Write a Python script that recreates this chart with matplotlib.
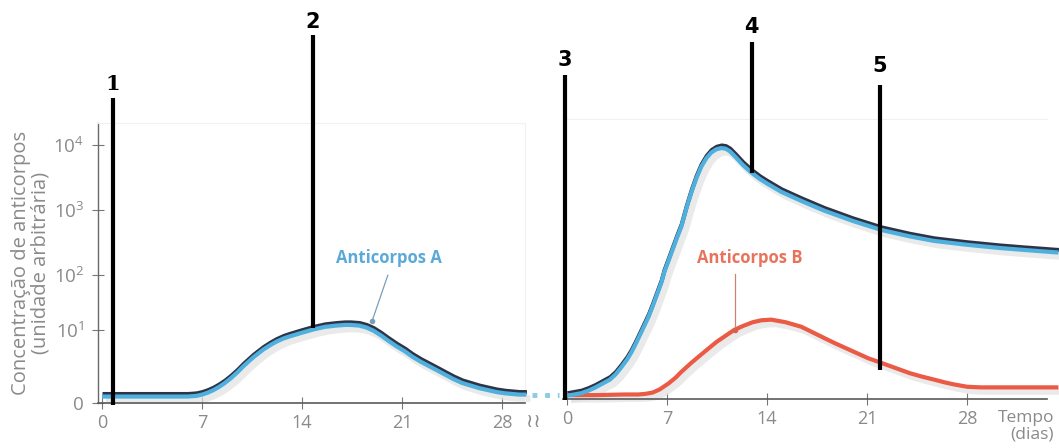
import matplotlib
matplotlib.use("Agg")
import matplotlib.pyplot as plt
from matplotlib.transforms import offset_copy

# ---------------- data (levels on the drawn log-like scale) ----------------
# Panel 1: primary response, antibody A
p1_days = [0, 3, 6.0, 6.6, 7.0, 7.4, 7.8, 8.2, 8.6, 9.0, 9.5, 9.9, 10.6, 11.3, 11.8, 12.2,
           12.7, 13.1, 14.0, 14.8, 15.6, 16.4, 17.0, 17.4, 18.0, 18.5, 19.0, 19.5, 20.0,
           20.6, 21.2, 21.7, 22.3, 22.9, 23.5, 24.0, 24.6, 25.2, 25.8, 26.4, 27.0, 27.6,
           28.2, 28.7, 29.2, 29.7]
p1_A = [0.10, 0.10, 0.10, 0.11, 0.13, 0.16, 0.20, 0.25, 0.31, 0.38, 0.48, 0.57, 0.71, 0.83,
        0.90, 0.95, 1.00, 1.03, 1.09, 1.14, 1.18, 1.20, 1.21, 1.21, 1.20, 1.17, 1.12, 1.05,
        0.97, 0.88, 0.80, 0.72, 0.64, 0.57, 0.50, 0.44, 0.37, 0.31, 0.27, 0.23, 0.20, 0.17,
        0.15, 0.14, 0.13, 0.13]

# Panel 2: secondary response, antibody A and primary response, antibody B
p2_days_A = [0, 1, 1.5, 2, 2.5, 3, 3.4, 3.8, 4.2, 4.5, 4.8, 5.1, 5.4, 5.7, 6.0, 6.3, 6.6,
             6.8, 7.1, 7.4, 7.7, 8.0, 8.35, 8.7, 9.05, 9.4, 9.75, 10.1, 10.45, 10.8, 11.1,
             11.4, 11.8, 12.3, 12.9, 13.5, 14, 15, 16.4, 18, 20, 22, 24, 25.7, 28, 30.3,
             32, 33.8, 34.4]
p2_A = [0.05, 0.09, 0.13, 0.18, 0.24, 0.30, 0.38, 0.49, 0.61, 0.72, 0.85, 0.99, 1.13, 1.27,
        1.44, 1.62, 1.80, 1.96, 2.14, 2.32, 2.50, 2.67, 2.95, 3.20, 3.42, 3.60, 3.73, 3.82,
        3.87, 3.89, 3.88, 3.84, 3.75, 3.63, 3.51, 3.41, 3.34, 3.21, 3.07, 2.92, 2.76, 2.62,
        2.52, 2.45, 2.39, 2.34, 2.31, 2.28, 2.27]
p2_days_B = [0, 2, 4, 5.0, 5.5, 6.0, 6.5, 7.1, 7.6, 8, 8.7, 9.4, 10.0, 10.5, 11.1, 11.7,
             12.3, 13, 13.6, 14.3, 15.3, 16.4, 17.5, 18.7, 19.5, 20.3, 21.1, 22, 23, 24,
             24.8, 25.7, 26.4, 27, 27.5, 28, 29, 30, 32, 34.4]
p2_B = [0.06, 0.06, 0.07, 0.07, 0.08, 0.10, 0.15, 0.24, 0.33, 0.42, 0.56, 0.69, 0.80, 0.89,
        0.98, 1.07, 1.13, 1.19, 1.22, 1.23, 1.19, 1.12, 1.00, 0.87, 0.79, 0.71, 0.63, 0.56,
        0.48, 0.40, 0.35, 0.30, 0.26, 0.23, 0.21, 0.19, 0.18, 0.18, 0.18, 0.18]

x_ticks = [0, 7, 14, 21, 28]
x_ticklabels = ["0", "7", "14", "21", "28"]
y_tick_levels = [0, 1.13, 1.98, 2.99, 4.0]
y_ticklabels = ["0", r"$10^1$", r"$10^2$", r"$10^3$", r"$10^4$"]

# numbered markers: (panel, day, bottom level, top level, label level, text)
markers = [
    (0, 0.77, -0.03, 4.73, 4.95, "1"),
    (0, 14.75, 1.16, 5.71, 5.90, "2"),
    (1, -0.14, -0.02, 5.02, 5.26, "3"),
    (1, 12.94, 3.50, 5.53, 5.77, "4"),
    (1, 21.90, 0.45, 4.87, 5.16, "5"),
]

# ---------------- style ----------------
plt.rcParams["font.family"] = ["Open Sans", "DejaVu Sans"]
plt.rcParams["mathtext.fontset"] = "custom"
plt.rcParams["mathtext.rm"] = "Open Sans"
plt.rcParams["mathtext.it"] = "Open Sans"
GRAY_TXT = "#8a8a8a"
BLUE = "#4fb0de"
DARK = "#2e3448"
RED = "#ea5a44"
SHADOW = "#e2e2e2"

W, H = 1059, 448
fig = plt.figure(figsize=(W / 100, H / 100), dpi=100)
ax1 = fig.add_axes([98 / W, (H - 403) / H, (525 - 98) / W, 280 / H])
ax2 = fig.add_axes([563 / W, (H - 399) / H, (1047 - 563) / W, 280 / H])

ax1.set_xlim(-0.28, 29.6)
ax2.set_xlim(-0.28, 33.6)
for ax in (ax1, ax2):
    ax.set_ylim(0, 4.34)
    ax.patch.set_alpha(0)
    for s in ("top", "right"):
        ax.spines[s].set_color("#f1f1f1")
        ax.spines[s].set_linewidth(0.8)
    ax.spines["bottom"].set_color("#5a5a5a")
    ax.spines["bottom"].set_linewidth(1.2)
    ax.set_xticks(x_ticks)
    ax.set_xticklabels(x_ticklabels)
    ax.tick_params(axis="x", direction="inout", length=8, width=0.8, color="#777777",
                   labelsize=13, labelcolor=GRAY_TXT, pad=4)
ax2.spines["right"].set_visible(False)

ax1.spines["left"].set_color("#6a6a6a")
ax1.spines["left"].set_linewidth(1.0)
ax1.set_yticks(y_tick_levels)
ax1.set_yticklabels(y_ticklabels)
ax1.tick_params(axis="y", direction="inout", length=8, width=0.8, color="#777777",
                labelsize=13.5, labelcolor=GRAY_TXT, pad=6)
ax2.spines["left"].set_visible(False)
ax2.set_yticks([])


def draw_curve(ax, x, y, color, outline=True):
    sh = offset_copy(ax.transData, fig=fig, x=4, y=-4, units="dots")
    ax.plot(x, y, color=SHADOW, lw=5, alpha=0.7, transform=sh, clip_on=False,
            solid_capstyle="butt", solid_joinstyle="round", zorder=2)
    if outline:
        up = offset_copy(ax.transData, fig=fig, x=0.5, y=2.5, units="dots")
        ax.plot(x, y, color=DARK, lw=3.0, transform=up, clip_on=False,
                solid_capstyle="butt", solid_joinstyle="round", zorder=3)
    ax.plot(x, y, color=color, lw=3.0, clip_on=False, solid_capstyle="butt",
            solid_joinstyle="round", zorder=4)


draw_curve(ax1, p1_days, p1_A, BLUE)
draw_curve(ax2, p2_days_B, p2_B, RED, outline=False)
draw_curve(ax2, p2_days_A, p2_A, BLUE)

# dotted connection between panels
ax1.plot([30.1, 32.0], [0.12, 0.12], color="#8ccbe3", lw=3.5, ls=(0, (1, 1.6)),
         clip_on=False, zorder=3)

# curve labels
ax1.text(20.1, 2.25, "Anticorpos A", color="#5aa9d6", fontsize=12, fontweight="bold",
         ha="center", va="center")
ax1.plot([20.0, 18.9], [1.98, 1.27], color="#7a9fb8", lw=0.9, zorder=5)
ax1.plot([18.9], [1.27], marker="o", ms=3, color="#7a9fb8", zorder=5)
ax2.text(12.8, 2.19, "Anticorpos B", color="#e8735a", fontsize=12, fontweight="bold",
         ha="center", va="center")
ax2.plot([11.75, 11.75], [1.94, 1.07], color="#d08070", lw=0.9, zorder=5)
ax2.plot([11.75], [1.07], marker="o", ms=3, color="#d8604c", zorder=5)

# numbered vertical markers
axes = (ax1, ax2)
for panel, day, y0, y1, ylab, txt in markers:
    ax = axes[panel]
    ax.plot([day, day], [y0, y1], color="black", lw=3.0, clip_on=False, zorder=6,
            solid_capstyle="butt")
    fam = ["DejaVu Serif"] if txt == "1" else ["DejaVu Sans"]
    ax.text(day, ylab, txt, fontsize=15, fontweight="bold", family=fam, color="black",
            ha="center", va="center", clip_on=False)

# axis titles
fig.text(31 / W, 1 - 263 / H, "Concentração de anticorpos\n(unidade arbitrária)",
         rotation=90, ha="center", va="center", multialignment="center",
         fontsize=14.5, color=GRAY_TXT, linespacing=1.0)
fig.text(1054 / W, 1 - 426 / H, "Tempo\n(dias)", ha="right", va="center",
         multialignment="right", fontsize=12.5, color=GRAY_TXT, linespacing=1.0)

# axis break symbol
fig.text(533 / W, 1 - 421 / H, "≀≀", family=["DejaVu Sans"], fontsize=14, color=GRAY_TXT,
         ha="center", va="center")

fig.savefig("out.png", dpi=100, facecolor="white")
